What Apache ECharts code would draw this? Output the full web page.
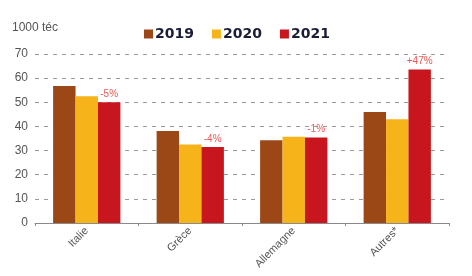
<!DOCTYPE html>
<html>
<head>
<meta charset="utf-8">
<script src="https://cdn.jsdelivr.net/npm/echarts@6/dist/echarts.min.js"></script>
<style>
  html, body { margin: 0; padding: 0; background: #ffffff; }
  #chart { width: 472px; height: 276px; }
</style>
</head>
<body>
<div id="chart"></div>
<script>
// ---- données (1000 téc) ----
var pays      = ["Italie", "Grèce", "Allemagne", "Autres*"];
var val2019   = [56.7, 38.1, 34.3, 46.0];
var val2020   = [52.5, 32.5, 35.7, 43.0];
var val2021   = [50.0, 31.5, 35.4, 63.6];
var variation = ["-5%", "-4%", "-1%", "+47%"];
var yTicks    = [0, 10, 20, 30, 40, 50, 60, 70];

var C2019 = "#9b4716";
var C2020 = "#f6b31a";
var C2021 = "#c8161f";

var chart = echarts.init(document.getElementById("chart"), null, { renderer: "canvas" });

chart.setOption({
  animation: false,
  textStyle: { fontFamily: "Liberation Sans Narrow, Liberation Sans, sans-serif" },
  graphic: [
    {
      type: "text", left: 12, top: 22,
      style: { text: "1000 téc", fill: "#555", font: "12px 'Liberation Sans Narrow', sans-serif" }
    }
  ],
  legend: {
    data: ["2019", "2020", "2021"],
    top: 22,
    left: 139,
    itemWidth: 9,
    itemHeight: 9,
    itemGap: 18,
    icon: "rect",
    textStyle: { fontSize: 14, fontWeight: "bold", color: "#1a1d38", fontFamily: "DejaVu Sans, sans-serif", padding: [0, 0, 0, -3] }
  },
  grid: { left: 35, right: 23, top: 54, bottom: 53 },
  xAxis: {
    type: "category",
    data: pays,
    axisLine: { lineStyle: { color: "#8a8a8a", width: 1 } },
    axisTick: { show: true, length: 3, lineStyle: { color: "#8a8a8a" } },
    axisLabel: { rotate: 45, fontSize: 11, color: "#555", margin: 6 }
  },
  yAxis: {
    type: "value",
    min: yTicks[0],
    max: yTicks[yTicks.length - 1],
    interval: 10,
    axisLine: { show: false },
    axisTick: { show: false },
    axisLabel: { fontSize: 12, color: "#555", margin: 7 },
    splitLine: { lineStyle: { color: "#9a9a9a", type: [4, 5], width: 1 } }
  },
  series: [
    { name: "2019", type: "bar", data: val2019, itemStyle: { color: C2019 }, barGap: "0%", barCategoryGap: "35%" },
    { name: "2020", type: "bar", data: val2020, itemStyle: { color: C2020 }, barGap: "0%", barCategoryGap: "35%" },
    {
      name: "2021", type: "bar", data: val2021, itemStyle: { color: C2021 }, barGap: "0%", barCategoryGap: "35%",
      label: {
        show: true, position: "top", distance: 3,
        color: "#ec5a55", fontSize: 10,
        formatter: function (p) { return variation[p.dataIndex]; }
      }
    }
  ]
});
</script>
</body>
</html>
